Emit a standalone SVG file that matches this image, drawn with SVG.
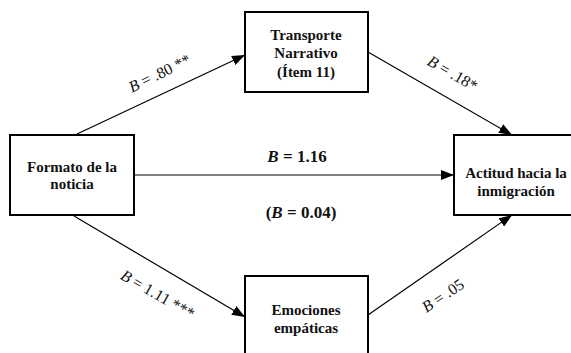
<svg xmlns="http://www.w3.org/2000/svg" width="571" height="353" viewBox="0 0 571 353">
<style>
.box{fill:#fff;stroke:#000;stroke-width:2}
.nt{font-family:'Liberation Serif','Times New Roman','DejaVu Serif',serif;font-weight:bold;font-size:15px;text-anchor:middle;fill:#111}
.lb{font-family:'Liberation Serif','Times New Roman','DejaVu Serif',serif;font-size:16px;text-anchor:middle;fill:#111}
.bl{font-family:'Liberation Serif','Times New Roman','DejaVu Serif',serif;font-weight:bold;font-size:17px;text-anchor:middle;fill:#111}
.c{stroke:#000;stroke-width:1.2;fill:none;marker-end:url(#ah)}
</style>
<defs>
<marker id="ah" viewBox="0 0 13 10" refX="13" refY="5" markerWidth="13" markerHeight="10" markerUnits="userSpaceOnUse" orient="auto">
<path d="M0,0 L13,5 L0,10 Z" fill="#000"/>
</marker>
</defs>
<rect width="571" height="353" fill="#fff"/>
<g id="connectors">
<line class="c" x1="77" y1="134" x2="245" y2="55"/>
<line class="c" x1="368" y1="52" x2="512" y2="135"/>
<line class="c" x1="134" y1="175" x2="454" y2="175"/>
<line class="c" x1="74" y1="216" x2="245" y2="317"/>
<line class="c" x1="368" y1="315" x2="512" y2="215"/>
</g>
<g id="labels">
<text class="lb" transform="translate(162,78) rotate(-26)"><tspan font-style="italic">B</tspan> = .80 **</text>
<text class="lb" transform="translate(450,78) rotate(30)"><tspan font-style="italic">B</tspan> = .18*</text>
<text class="lb" transform="translate(155,299) rotate(30)"><tspan font-style="italic">B</tspan> = 1.11 ***</text>
<text class="lb" transform="translate(446,300) rotate(-34)"><tspan font-style="italic">B</tspan> = .05</text>
<text class="bl" x="297" y="162"><tspan font-style="italic">B</tspan> = 1.16</text>
<text class="bl" x="301" y="218">(<tspan font-style="italic">B</tspan> = 0.04)</text>
</g>
<g id="formato">
<rect class="box" x="10" y="135" width="124" height="80"/>
<text class="nt" x="72" y="172">Formato de la</text>
<text class="nt" x="72" y="189">noticia</text>
</g>
<g id="transporte">
<rect class="box" x="245" y="12" width="123" height="80"/>
<text class="nt" x="306" y="40">Transporte</text>
<text class="nt" x="306" y="58">Narrativo</text>
<text class="nt" x="306" y="77">(Ítem 11)</text>
</g>
<g id="actitud">
<rect class="box" x="454" y="135" width="124" height="80"/>
<text class="nt" x="516" y="178">Actitud hacia la</text>
<text class="nt" x="516" y="196">inmigración</text>
</g>
<g id="emociones">
<rect class="box" x="245" y="276" width="123" height="80"/>
<text class="nt" x="306" y="315">Emociones</text>
<text class="nt" x="306" y="333">empáticas</text>
</g>
</svg>
